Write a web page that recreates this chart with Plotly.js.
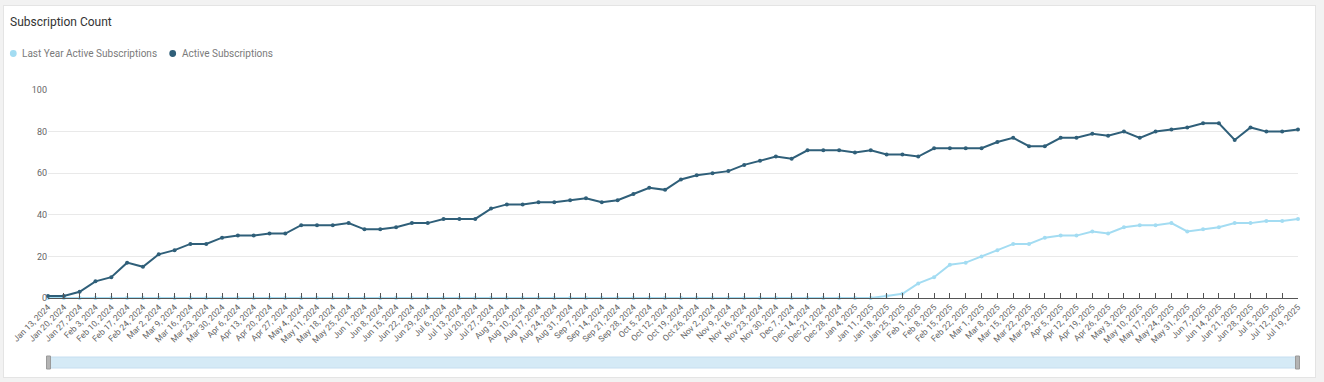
<!DOCTYPE html>
<html>
<head>
<meta charset="utf-8">
<script src="https://cdn.plot.ly/plotly-3.0.1.min.js"></script>
<style>
  html, body { margin: 0; padding: 0; background: #f2f2f2; width: 1324px; height: 382px; overflow: hidden; }
  #card { position: absolute; left: 3px; top: 5px; width: 1311px; height: 371px; background: #ffffff; border: 1px solid #e4e4e4; }
  #chart { position: absolute; left: 0; top: 0; width: 1324px; height: 382px; }
</style>
</head>
<body>
<div id="card"></div>
<div id="chart"></div>
<script>
// Weekly categories (Jan 13, 2024 .. Jul 19, 2025)
const weeks = [
  "Jan 13, 2024","Jan 20, 2024","Jan 27, 2024","Feb 3, 2024","Feb 10, 2024","Feb 17, 2024","Feb 24, 2024",
  "Mar 2, 2024","Mar 9, 2024","Mar 16, 2024","Mar 23, 2024","Mar 30, 2024","Apr 6, 2024","Apr 13, 2024",
  "Apr 20, 2024","Apr 27, 2024","May 4, 2024","May 11, 2024","May 18, 2024","May 25, 2024","Jun 1, 2024",
  "Jun 8, 2024","Jun 15, 2024","Jun 22, 2024","Jun 29, 2024","Jul 6, 2024","Jul 13, 2024","Jul 20, 2024",
  "Jul 27, 2024","Aug 3, 2024","Aug 10, 2024","Aug 17, 2024","Aug 24, 2024","Aug 31, 2024","Sep 7, 2024",
  "Sep 14, 2024","Sep 21, 2024","Sep 28, 2024","Oct 5, 2024","Oct 12, 2024","Oct 19, 2024","Oct 26, 2024",
  "Nov 2, 2024","Nov 9, 2024","Nov 16, 2024","Nov 23, 2024","Nov 30, 2024","Dec 7, 2024","Dec 14, 2024",
  "Dec 21, 2024","Dec 28, 2024","Jan 4, 2025","Jan 11, 2025","Jan 18, 2025","Jan 25, 2025","Feb 1, 2025",
  "Feb 8, 2025","Feb 15, 2025","Feb 22, 2025","Mar 1, 2025","Mar 8, 2025","Mar 15, 2025","Mar 22, 2025",
  "Mar 29, 2025","Apr 5, 2025","Apr 12, 2025","Apr 19, 2025","Apr 26, 2025","May 3, 2025","May 10, 2025",
  "May 17, 2025","May 24, 2025","May 31, 2025","Jun 7, 2025","Jun 14, 2025","Jun 21, 2025","Jun 28, 2025",
  "Jul 5, 2025","Jul 12, 2025","Jul 19, 2025"
];

const activeSubs = [
  1,1,3,8,10,17,15,21,23,26,26,29,30,30,31,31,35,35,35,36,
  33,33,34,36,36,38,38,38,43,45,45,46,46,47,48,46,47,50,53,52,
  57,59,60,61,64,66,68,67,71,71,71,70,71,69,69,68,72,72,72,72,
  75,77,73,73,77,77,79,78,80,77,80,81,82,84,84,76,82,80,80,81
];

const lastYearSubs = [
  0,0,0,0,0,0,0,0,0,0,0,0,0,0,0,0,0,0,0,0,
  0,0,0,0,0,0,0,0,0,0,0,0,0,0,0,0,0,0,0,0,
  0,0,0,0,0,0,0,0,0,0,0,0,0,1,2,7,10,16,17,20,
  23,26,26,29,30,30,32,31,34,35,35,36,32,33,34,36,36,37,37,38
];

const yTicks = [0, 20, 40, 60, 80, 100];

const seriesNames = ["Last Year Active Subscriptions", "Active Subscriptions"];
const colLight = "#a3dcf2";
const colDark = "#2f5f79";

// plot area in pixels: x 48..1298, y 90..298
const px = v => (v - 48) / 1250;
const py = v => (298 - v) / 208;

const traces = [
  { x: weeks, y: lastYearSubs, type: "scatter", mode: "lines+markers", name: seriesNames[0],
    line: { color: colLight, width: 2 }, marker: { color: colLight, size: 4 }, cliponaxis: false },
  { x: weeks, y: activeSubs, type: "scatter", mode: "lines+markers", name: seriesNames[1],
    line: { color: colDark, width: 2 }, marker: { color: colDark, size: 4 }, cliponaxis: false }
];

const legendDot = (cx, cy, color) => ({
  type: "circle", xref: "paper", yref: "paper", xsizemode: "pixel", ysizemode: "pixel",
  xanchor: px(cx), yanchor: py(cy), x0: -3.4, x1: 3.4, y0: -3.4, y1: 3.4,
  fillcolor: color, line: { width: 0 }, layer: "above"
});

const legendText = (x, y, text) => ({
  text: text, xref: "paper", yref: "paper", x: px(x), y: py(y), xanchor: "left", yanchor: "middle",
  showarrow: false, font: { size: 10, color: "#7a7a7a" }, borderpad: 0
});

const layout = {
  width: 1324, height: 382,
  paper_bgcolor: "rgba(0,0,0,0)", plot_bgcolor: "rgba(0,0,0,0)",
  margin: { l: 48, r: 26, t: 90, b: 84 },
  font: { family: "Roboto, 'Open Sans', sans-serif", color: "#666" },
  title: { text: "Subscription Count", x: 10 / 1324, xref: "container", xanchor: "left",
           y: 1 - 22 / 382, yanchor: "middle", font: { size: 12, color: "#333" } },
  showlegend: false,
  xaxis: {
    type: "category", range: [0, weeks.length - 1], tickangle: -45,
    tickfont: { size: 8.5, color: "#666" }, showgrid: false, zeroline: false,
    showline: true, linecolor: "#555", linewidth: 1,
    ticks: "inside", ticklen: 5, tickcolor: "#555", tickwidth: 1
  },
  yaxis: {
    range: [0, 100], tickvals: yTicks, tickfont: { size: 9, color: "#666" },
    showgrid: true, gridcolor: "#e9e9e9", gridwidth: 1, zeroline: false, showline: false,
    ticks: "", fixedrange: true
  },
  annotations: [
    legendText(20.5, 54, seriesNames[0]),
    legendText(180.5, 54, seriesNames[1])
  ],
  shapes: [
    legendDot(13.3, 53.5, colLight),
    legendDot(172.7, 53.5, colDark),
    { type: "rect", xref: "paper", yref: "paper", x0: 0, x1: 1,
      y0: py(368), y1: py(357),
      fillcolor: "#d5eaf6", line: { color: "#c6def0", width: 1 }, layer: "above" },
    { type: "rect", xref: "paper", yref: "paper", x0: px(46.5), x1: px(50.5),
      y0: py(369), y1: py(356),
      fillcolor: "#b4b4b4", line: { color: "#9a9a9a", width: 1 }, layer: "above" },
    { type: "rect", xref: "paper", yref: "paper", x0: px(1295.5), x1: px(1299.5),
      y0: py(369), y1: py(356),
      fillcolor: "#b4b4b4", line: { color: "#9a9a9a", width: 1 }, layer: "above" }
  ]
};

Plotly.newPlot("chart", traces, layout, { displayModeBar: false, staticPlot: true });
</script>
</body>
</html>
